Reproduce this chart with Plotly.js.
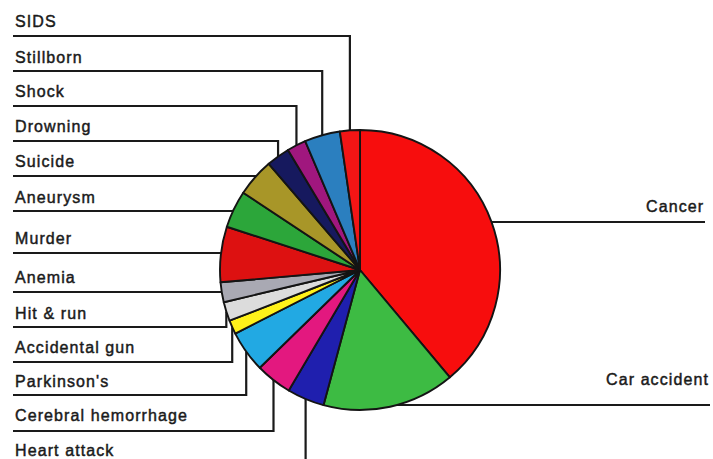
<!DOCTYPE html>
<html>
<head>
<meta charset="utf-8">
<script src="https://cdn.plot.ly/plotly-3.0.1.min.js"></script>
<style>
  html, body { margin: 0; padding: 0; background: #ffffff; }
  #chart { width: 713px; height: 459px; }
  .annotation-text { letter-spacing: 1.1px; stroke: #1a1a1a; stroke-width: 0.45px; }
</style>
</head>
<body>
<div id="chart"></div>
<script>
// ---- data (clockwise from 12 o'clock) ----
const labels = ['Cancer', 'Car accident', 'Heart attack', 'Cerebral hemorrhage', "Parkinson's",
                'Accidental gun', 'Hit & run', 'Anemia', 'Murder', 'Aneurysm',
                'Suicide', 'Drowning', 'Shock', 'Stillborn', 'SIDS'];
const values = [38.9, 15.3, 4.3, 4.2, 4.8, 1.6, 2.2, 2.3, 6.4, 4.3, 4.4, 2.7, 2.2, 4.1, 2.3];
const colors = ['#f70d0d', '#3dbb43', '#1f1fae', '#e3187f', '#22a9e3',
                '#fff21a', '#dcdcdc', '#a9a9b3', '#dd1111', '#2ca63a',
                '#a89628', '#16195e', '#a0177e', '#2b7fbf', '#f31515'];

// label rows on the left (top to bottom) and on the right
const leftOrder = ['SIDS', 'Stillborn', 'Shock', 'Drowning', 'Suicide', 'Aneurysm', 'Murder',
                   'Anemia', 'Hit & run', 'Accidental gun', "Parkinson's", 'Cerebral hemorrhage', 'Heart attack'];
const rightOrder = ['Cancer', 'Car accident'];

// ---- layout geometry (pixels) ----
const W = 713, H = 459;
const CX = 360, CY = 270, R = 140;
const leftTextY = [21, 57, 91, 126, 161, 197, 238, 277, 313, 347, 381, 415, 450];
const leftLineY = [36, 71, 106, 141, 176, 211, 253, 292, 327, 362, 395, 431, 468];
const leftX = 13;
const rightTextY = [206, 379];
const rightLineY = [222, 405];
const rightX = [705, 710];

// slice mid-angle -> point on the rim
const total = values.reduce((a, b) => a + b, 0);
const rim = {};
let cum = 0;
labels.forEach((lab, i) => {
  const mid = (cum + values[i] / 2) / total * 2 * Math.PI;
  cum += values[i];
  rim[lab] = [CX + R * Math.sin(mid), CY - R * Math.cos(mid)];
});

const lx = [], ly = [];
const annotations = [];
leftOrder.forEach((lab, k) => {
  const p = rim[lab];
  lx.push(leftX, p[0], p[0], null);
  ly.push(leftLineY[k], leftLineY[k], p[1], null);
  annotations.push({
    xref: 'x', yref: 'y', x: leftX + 1, y: leftTextY[k],
    xanchor: 'left', yanchor: 'middle', showarrow: false, borderpad: 0,
    text: lab.replace('&', '&amp;'),
    font: { family: 'Liberation Sans, Arial, sans-serif', size: 16, color: '#1a1a1a' }
  });
});
rightOrder.forEach((lab, k) => {
  const p = rim[lab];
  lx.push(p[0], p[0], rightX[k], null);
  ly.push(p[1], rightLineY[k], rightLineY[k], null);
  annotations.push({
    xref: 'x', yref: 'y', x: rightX[k], y: rightTextY[k],
    xanchor: 'right', yanchor: 'middle', showarrow: false, borderpad: 0,
    text: lab,
    font: { family: 'Liberation Sans, Arial, sans-serif', size: 16, color: '#1a1a1a' }
  });
});

const traces = [
  {
    type: 'scatter', mode: 'lines', x: lx, y: ly,
    line: { color: '#1a1a1a', width: 2.2 },
    hoverinfo: 'skip', showlegend: false, cliponaxis: true
  },
  {
    type: 'pie', labels: labels, values: values, sort: false,
    direction: 'clockwise', rotation: 0,
    marker: { colors: colors, line: { color: '#141414', width: 1.9 } },
    textinfo: 'none', hoverinfo: 'label+percent', showlegend: false,
    domain: { x: [(CX - R) / W, (CX + R) / W], y: [(H - CY - R) / H, (H - CY + R) / H] }
  }
];

const layout = {
  width: W, height: H,
  margin: { l: 0, r: 0, t: 0, b: 0, pad: 0 },
  paper_bgcolor: '#ffffff', plot_bgcolor: 'rgba(0,0,0,0)',
  showlegend: false,
  xaxis: { range: [0, W], visible: false, fixedrange: true },
  yaxis: { range: [H, 0], visible: false, fixedrange: true },
  annotations: annotations
};

Plotly.newPlot('chart', traces, layout, { displayModeBar: false, staticPlot: true });
</script>
</body>
</html>
